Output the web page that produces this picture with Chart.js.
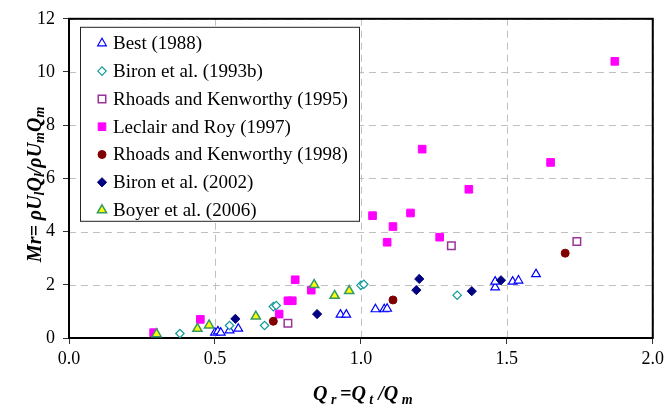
<!DOCTYPE html>
<html>
<head>
<meta charset="utf-8">
<script src="https://cdn.jsdelivr.net/npm/chart.js@4.4.1/dist/chart.umd.min.js"></script>
<style>
  html, body { margin: 0; padding: 0; background: #fff; }
</style>
</head>
<body>
<canvas id="grafico" width="668" height="408"></canvas>
<script>
// data: Qr (x) and Mr (y) per study
const bestX = [0.50, 0.51, 0.52, 0.55, 0.58, 0.93, 0.95, 1.05, 1.08, 1.09, 1.46, 1.46, 1.52, 1.54, 1.60];
const bestY = [0.20, 0.25, 0.20, 0.29, 0.35, 0.88, 0.88, 1.08, 1.08, 1.10, 1.90, 2.12, 2.12, 2.16, 2.40];

const biron93X = [0.38, 0.55, 0.67, 0.70, 0.71, 1.00, 1.01, 1.33];
const biron93Y = [0.17, 0.47, 0.47, 1.18, 1.22, 1.98, 2.02, 1.61];

const rhoads95X = [0.75, 1.31, 1.74];
const rhoads95Y = [0.55, 3.47, 3.63];

const leclairX = [0.29, 0.45, 0.72, 0.75, 0.765, 0.775, 0.83, 1.04, 1.09, 1.11, 1.17, 1.21, 1.27, 1.37, 1.65, 1.87];
const leclairY = [0.20, 0.70, 0.90, 1.40, 1.40, 2.19, 1.80, 4.60, 3.60, 4.19, 4.70, 7.10, 3.79, 5.59, 6.60, 10.40];

const rhoads98X = [0.70, 1.11, 1.70];
const rhoads98Y = [0.63, 1.43, 3.19];

const biron02X = [0.57, 0.85, 1.19, 1.20, 1.38, 1.48];
const biron02Y = [0.72, 0.90, 1.80, 2.22, 1.76, 2.17];

const boyerX = [0.30, 0.44, 0.48, 0.64, 0.84, 0.91, 0.96];
const boyerY = [0.15, 0.35, 0.48, 0.81, 2.00, 1.59, 1.77];

const labels = [
  'Best (1988)',
  'Biron et al. (1993b)',
  'Rhoads and Kenworthy (1995)',
  'Leclair and Roy (1997)',
  'Rhoads and Kenworthy (1998)',
  'Biron et al. (2002)',
  'Boyer et al. (2006)'
];

const xTicks = [0, 0.5, 1.0, 1.5, 2.0];
const yTicks = [0, 2, 4, 6, 8, 10, 12];

const pts = (xs, ys) => xs.map((x, i) => ({ x: x, y: ys[i] }));

const styles = [
  { pointStyle: 'triangle', pointRadius: 5, backgroundColor: '#ffffff', borderColor: '#0000ff', borderWidth: 1.2 },
  { pointStyle: 'rectRot', pointRadius: 4.2, backgroundColor: '#ffffff', borderColor: '#109a9a', borderWidth: 1.2 },
  { pointStyle: 'rect', pointRadius: 5.3, backgroundColor: '#ffffff', borderColor: '#993399', borderWidth: 1.5 },
  { pointStyle: 'rect', pointRadius: 5.4, backgroundColor: '#ff00ff', borderColor: '#ff00ff', borderWidth: 1 },
  { pointStyle: 'circle', pointRadius: 4, backgroundColor: '#800000', borderColor: '#800000', borderWidth: 1 },
  { pointStyle: 'rectRot', pointRadius: 4.6, backgroundColor: '#000080', borderColor: '#000080', borderWidth: 1 },
  { pointStyle: 'triangle', pointRadius: 5.3, backgroundColor: '#ffff00', borderColor: '#339966', borderWidth: 1.5 }
];

const series = [
  pts(bestX, bestY),
  pts(biron93X, biron93Y),
  pts(rhoads95X, rhoads95Y),
  pts(leclairX, leclairY),
  pts(rhoads98X, rhoads98Y),
  pts(biron02X, biron02Y),
  pts(boyerX, boyerY)
];

const datasets = series.map((d, i) => Object.assign({
  label: labels[i],
  data: d,
  showLine: false,
  pointHoverRadius: styles[i].pointRadius,
  order: series.length - i   // later series on top, like the original
}, styles[i]));

const SERIF = '"Liberation Serif", "Times New Roman", serif';

// own marker drawing for the boxed legend (same geometry as chart.js)
function drawMarker(ctx, st, x, y) {
  const r = st.pointRadius;
  ctx.beginPath();
  if (st.pointStyle === 'triangle') {
    let a = 0;
    ctx.moveTo(x + Math.sin(a) * r, y - Math.cos(a) * r);
    a += 2 * Math.PI / 3;
    ctx.lineTo(x + Math.sin(a) * r, y - Math.cos(a) * r);
    a += 2 * Math.PI / 3;
    ctx.lineTo(x + Math.sin(a) * r, y - Math.cos(a) * r);
    ctx.closePath();
  } else if (st.pointStyle === 'rect') {
    const s = Math.SQRT1_2 * r;
    ctx.rect(x - s, y - s, 2 * s, 2 * s);
  } else if (st.pointStyle === 'rectRot') {
    ctx.moveTo(x - r, y);
    ctx.lineTo(x, y - r);
    ctx.lineTo(x + r, y);
    ctx.lineTo(x, y + r);
    ctx.closePath();
  } else {
    ctx.arc(x, y, r, 0, Math.PI * 2);
  }
  ctx.fillStyle = st.backgroundColor;
  ctx.fill();
  ctx.lineWidth = st.borderWidth;
  ctx.strokeStyle = st.borderColor;
  ctx.stroke();
}

// text with subscripts, runs = [[text, isSub], ...]
function drawRuns(ctx, runs, cx, cy, big, small, drop) {
  const fBig = 'bold italic ' + big + 'px ' + SERIF;
  const fSmall = 'bold italic ' + small + 'px ' + SERIF;
  let total = 0;
  runs.forEach(r => { ctx.font = r[1] ? fSmall : fBig; total += ctx.measureText(r[0]).width; });
  let x = cx - total / 2;
  ctx.textAlign = 'left';
  ctx.textBaseline = 'alphabetic';
  runs.forEach(r => {
    ctx.font = r[1] ? fSmall : fBig;
    ctx.fillText(r[0], x, cy + (r[1] ? drop : 0));
    x += ctx.measureText(r[0]).width;
  });
}

const framePlugin = {
  id: 'frame',
  beforeDatasetsDraw(chart) {
    const a = chart.chartArea, ctx = chart.ctx;
    const sx = chart.scales.x, sy = chart.scales.y;
    ctx.save();
    // dashed grid
    ctx.strokeStyle = '#c0c0c0';
    ctx.lineWidth = 1;
    ctx.setLineDash([7, 5]);
    xTicks.forEach(v => {
      const px = Math.round(sx.getPixelForValue(v)) + 0.5;
      ctx.beginPath(); ctx.moveTo(px, a.top); ctx.lineTo(px, a.bottom); ctx.stroke();
    });
    yTicks.forEach(v => {
      const py = Math.round(sy.getPixelForValue(v)) + 0.5;
      ctx.beginPath(); ctx.moveTo(a.left, py); ctx.lineTo(a.right, py); ctx.stroke();
    });
    ctx.setLineDash([]);
    // plot frame
    ctx.strokeStyle = '#000';
    ctx.lineWidth = 2;
    ctx.strokeRect(a.left, a.top, a.right - a.left, a.bottom - a.top);
    ctx.restore();
  },
  afterDraw(chart) {
    const a = chart.chartArea, ctx = chart.ctx;
    ctx.save();
    // legend box
    const lx = a.left + 11, ly = a.top + 8, lw = 279, lh = 194;
    ctx.fillStyle = '#fff';
    ctx.fillRect(lx, ly, lw, lh);
    ctx.strokeStyle = '#222';
    ctx.lineWidth = 1;
    ctx.strokeRect(lx + 0.5, ly + 0.5, lw, lh);
    chart.data.datasets.forEach((ds, i) => {
      const y = ly + 16.5 + i * 27.8;
      drawMarker(ctx, styles[i], lx + 22, y);
      ctx.fillStyle = '#000';
      ctx.font = '19px ' + SERIF;
      ctx.textAlign = 'left';
      ctx.textBaseline = 'middle';
      ctx.fillText(ds.label, lx + 33, y + 1);
    });
    // axis titles
    ctx.fillStyle = '#000';
    drawRuns(ctx, [['Q', false], [' r ', true], ['=Q', false], [' t', true], [' /Q', false], [' m', true]],
      (a.left + a.right) / 2 + 2, 400, 20, 14, 4);
    ctx.translate(41, (a.top + a.bottom) / 2 + 6);
    ctx.rotate(-Math.PI / 2);
    drawRuns(ctx, [['Mr= \u03c1U', false], ['l', true], ['Q', false], ['l', true], ['/\u03c1U', false], ['m', true], ['Q', false], ['m', true]],
      0, 0, 20, 14, 3);
    ctx.restore();
  }
};

new Chart(document.getElementById('grafico'), {
  type: 'scatter',
  data: { datasets: datasets },
  options: {
    responsive: false,
    animation: false,
    layout: { padding: { left: 0, right: 13, top: 15, bottom: 0 } },
    plugins: {
      legend: { display: false },
      tooltip: { enabled: false }
    },
    scales: {
      x: {
        type: 'linear',
        min: 0,
        max: 2,
        afterFit: s => { s.height = 70; },
        afterBuildTicks: s => { s.ticks = xTicks.map(v => ({ value: v })); },
        ticks: {
          color: '#000',
          padding: 4,
          font: { family: SERIF, size: 18 },
          callback: v => Number(v).toFixed(1)
        },
        grid: {
          drawOnChartArea: false,
          tickColor: '#333',
          tickLength: 6
        },
        border: { display: false }
      },
      y: {
        type: 'linear',
        min: 0,
        max: 12,
        afterFit: s => { s.width = 69; },
        afterBuildTicks: s => { s.ticks = yTicks.map(v => ({ value: v })); },
        ticks: {
          color: '#000',
          padding: 8,
          font: { family: SERIF, size: 18 },
          callback: v => String(v)
        },
        grid: {
          drawOnChartArea: false,
          tickColor: '#333',
          tickLength: 6
        },
        border: { display: false }
      }
    }
  },
  plugins: [framePlugin]
});
</script>
</body>
</html>
